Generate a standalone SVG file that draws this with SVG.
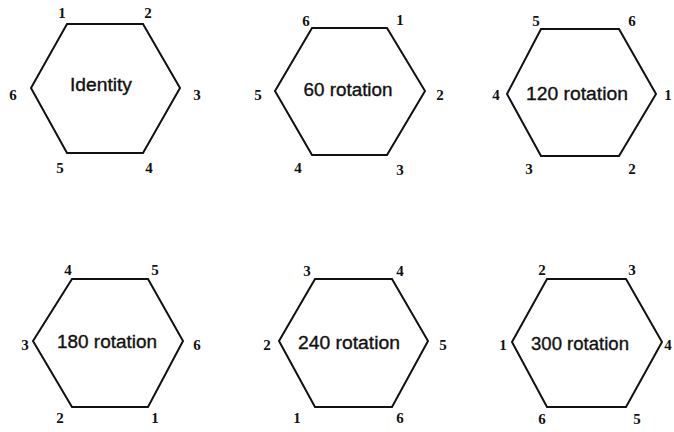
<svg xmlns="http://www.w3.org/2000/svg" width="674" height="432" viewBox="0 0 674 432">
<style>
.hex{fill:none;stroke:#111;stroke-width:2;stroke-linejoin:miter}
.t{font-family:"Liberation Sans",Arial,sans-serif;font-size:18px;fill:#111;stroke:#111;stroke-width:0.35;text-anchor:middle}
.n{font-family:"Liberation Serif","Times New Roman",serif;font-weight:bold;font-size:15px;fill:#111;text-anchor:middle}
</style>
<rect width="674" height="432" fill="#fff"/>
<g id="identity">
<polygon class="hex" points="67,24 143,24 180,88 143,153 67,153 31,88"/>
<text class="t" x="101" y="91" textLength="62" lengthAdjust="spacingAndGlyphs">Identity</text>
<text class="n" x="62" y="18">1</text>
<text class="n" x="148" y="18">2</text>
<text class="n" x="197" y="100">3</text>
<text class="n" x="149" y="173">4</text>
<text class="n" x="60" y="173">5</text>
<text class="n" x="13" y="100">6</text>
</g>
<g id="rot60">
<polygon class="hex" points="312,28 387,28 425,91 387,155 312,155 275,91"/>
<text class="t" x="348" y="96" textLength="89" lengthAdjust="spacingAndGlyphs">60 rotation</text>
<text class="n" x="400" y="25">1</text>
<text class="n" x="440" y="100">2</text>
<text class="n" x="400" y="175">3</text>
<text class="n" x="298" y="173">4</text>
<text class="n" x="258" y="100">5</text>
<text class="n" x="306" y="26">6</text>
</g>
<g id="rot120">
<polygon class="hex" points="541,29 619,29 656,94 619,156 541,156 507,94"/>
<text class="t" x="577" y="100" textLength="102" lengthAdjust="spacingAndGlyphs">120 rotation</text>
<text class="n" x="668" y="100">1</text>
<text class="n" x="632" y="174">2</text>
<text class="n" x="529" y="174">3</text>
<text class="n" x="496" y="100">4</text>
<text class="n" x="536" y="26">5</text>
<text class="n" x="632" y="26">6</text>
</g>
<g id="rot180">
<polygon class="hex" points="72,279 148,279 183,341 148,407 72,407 33,341"/>
<text class="t" x="107" y="348" textLength="100" lengthAdjust="spacingAndGlyphs">180 rotation</text>
<text class="n" x="155" y="423">1</text>
<text class="n" x="60" y="423">2</text>
<text class="n" x="25" y="350">3</text>
<text class="n" x="68" y="275">4</text>
<text class="n" x="155" y="275">5</text>
<text class="n" x="197" y="350">6</text>
</g>
<g id="rot240">
<polygon class="hex" points="315,279 392,279 428,341 392,407 315,407 279,341"/>
<text class="t" x="349" y="349" textLength="102" lengthAdjust="spacingAndGlyphs">240 rotation</text>
<text class="n" x="297" y="423">1</text>
<text class="n" x="267" y="350">2</text>
<text class="n" x="307" y="276">3</text>
<text class="n" x="400" y="276">4</text>
<text class="n" x="443" y="350">5</text>
<text class="n" x="400" y="423">6</text>
</g>
<g id="rot300">
<polygon class="hex" points="547,279 626,279 662,342 626,407 547,407 512,342"/>
<text class="t" x="580" y="350" textLength="98" lengthAdjust="spacingAndGlyphs">300 rotation</text>
<text class="n" x="503" y="350">1</text>
<text class="n" x="542" y="275">2</text>
<text class="n" x="632" y="275">3</text>
<text class="n" x="668" y="350">4</text>
<text class="n" x="637" y="424">5</text>
<text class="n" x="542" y="424">6</text>
</g>
<g id="connectors"/>
</svg>
